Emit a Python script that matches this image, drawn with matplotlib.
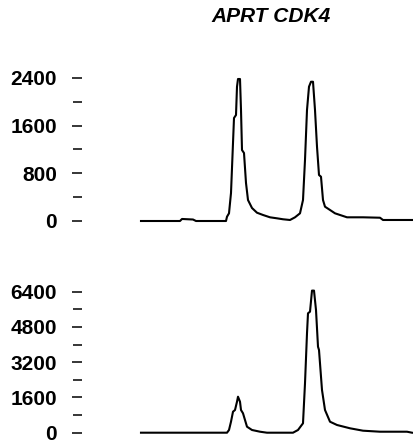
import matplotlib
matplotlib.use("Agg")
import matplotlib.pyplot as plt
from matplotlib.ticker import MultipleLocator

plt.rcParams['font.family'] = ['Liberation Sans', 'DejaVu Sans']

title = "APRT CDK4"

# top trace (scan position, signal)
top_x = [0, 39, 41, 52, 55, 85, 86, 88, 90, 92, 93, 95, 96, 97, 99, 100, 101, 103,
         105, 107, 111, 116, 122, 129, 136, 142, 149, 154, 159, 162, 164, 166, 168,
         170, 172, 174, 176, 178, 180, 182, 184, 189, 194, 199, 206, 222, 239, 242, 272]
top_y = [0, 0, 34, 25, 0, 0, 72, 129, 470, 1309, 1728, 1779, 2254, 2383, 2383, 1863,
         1191, 1141, 638, 352, 218, 139, 101, 62, 45, 29, 17, 62, 129, 352, 1024, 1863,
         2254, 2337, 2337, 1863, 1247, 772, 743, 352, 240, 185, 129, 101, 62, 62, 55, 17, 17]

# bottom trace
bot_x = [0, 86, 88, 90, 92, 94, 96, 97, 99, 100, 102, 104, 106, 111, 119, 126, 152,
         157, 162, 164, 166, 167, 169, 171, 173, 175, 177, 178, 181, 184, 189, 196,
         209, 222, 239, 266, 271]
bot_y = [0, 0, 123, 499, 953, 1030, 1407, 1634, 1407, 1030, 881, 576, 272, 123, 45, 0,
         0, 123, 427, 2242, 4512, 5420, 5492, 6450, 6450, 5570, 3904, 3754, 1938, 1030,
         499, 350, 200, 91, 45, 45, 0]

top_ticks = [0, 800, 1600, 2400]
bot_ticks = [0, 1600, 3200, 4800, 6400]

W, H = 414, 443
fig = plt.figure(figsize=(W / 100, H / 100), dpi=100)


def make_ax(ytop_px, ybot_px, zero_px, per_px):
    ax = fig.add_axes([82 / W, 1 - ybot_px / H, (W - 82) / W, (ybot_px - ytop_px) / H])
    ax.set_xlim(-59, 273)
    ax.set_ylim(-(ybot_px - zero_px) * per_px, (zero_px - ytop_px) * per_px)
    for s in ax.spines.values():
        s.set_visible(False)
    ax.set_xticks([])
    return ax


ax1 = make_ax(55, 228, 221, 800 / 47.67)
ax1.plot(top_x, top_y, color='black', lw=1.5)
ax1.set_yticks(top_ticks)
ax1.yaxis.set_minor_locator(MultipleLocator(400))

ax2 = make_ax(283, 440, 432.7, 6400 / 141)
ax2.plot(bot_x, bot_y, color='black', lw=1.5)
ax2.set_yticks(bot_ticks)
ax2.yaxis.set_minor_locator(MultipleLocator(800))

for ax in (ax1, ax2):
    ax.tick_params(axis='y', which='both', direction='out', length=7, width=1.1,
                   pad=11, labelsize=15)
    ax.tick_params(axis='y', which='minor', length=6.5)
    for lbl in ax.get_yticklabels():
        lbl.set_fontweight('bold')
    ax.set_yticks([t for t in ax.get_yticks(minor=True)
                   if ax.get_ylim()[0] <= t <= ax.get_ylim()[1]], minor=True)

fig.text(271 / W, 1 - 17 / H, title, ha='center', va='center', fontsize=15,
         fontweight='bold', fontstyle='italic')

fig.savefig("out.png", dpi=100)
